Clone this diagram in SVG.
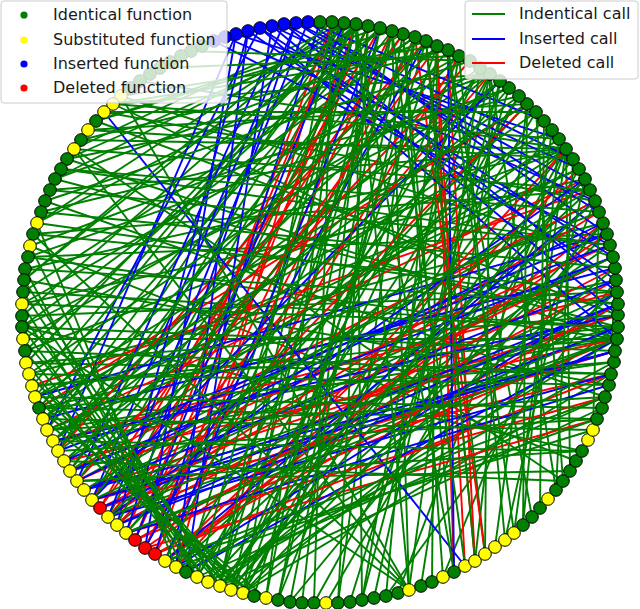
<svg xmlns="http://www.w3.org/2000/svg" width="640" height="609" viewBox="0 0 640 609">
<style>
.e path{fill:none;stroke-width:1.9}
.eg path{stroke:#007f00}
.eb path{stroke:#0000ff}
.er path{stroke:#ff0000}
.n circle{stroke:#000;stroke-width:1}
.g{fill:#008000}.y{fill:#ffff00}.b{fill:#0000ff}.r{fill:#ff0000}
.lg{fill:#fff;fill-opacity:.8;stroke:#cccccc;stroke-width:1}
.t{font-family:"DejaVu Sans",sans-serif;font-size:16px;fill:#1a1a1a}
</style>
<rect width="640" height="609" fill="#fff"/>
<g id="connectors" class="e">
<g class="eg">
<path d="M356 24L22 316"/><path d="M356 24L26 363"/><path d="M356 24L47 430"/><path d="M356 24L92 500"/><path d="M356 24L186 572"/><path d="M356 24L220 586"/>
<path d="M344 23L37 223"/><path d="M344 23L24 280"/><path d="M344 23L32 386"/><path d="M344 23L58 451"/><path d="M344 23L243 593"/><path d="M344 23L266 598"/>
<path d="M356 24L362 600"/><path d="M344 23L74 149"/><path d="M356 24L55 179"/>
<path d="M380 28L39 408"/><path d="M368 26L108 517"/><path d="M380 28L231 590"/><path d="M368 26L302 603"/><path d="M380 28L96 121"/>
<path d="M415 37L23 292"/><path d="M403 34L70 471"/><path d="M392 31L208 582"/><path d="M426 41L254 596"/><path d="M415 37L338 603"/><path d="M403 34L454 572"/><path d="M392 31L409 590"/><path d="M426 41L485 554"/><path d="M437 46L432 582"/><path d="M448 50L532 517"/>
<path d="M490 74L113 104"/><path d="M490 74L67 159"/><path d="M490 74L30 246"/><path d="M490 74L23 339"/><path d="M490 74L53 441"/><path d="M490 74L197 577"/><path d="M490 74L278 600"/><path d="M490 74L374 598"/><path d="M490 74L556 490"/>
<path d="M527 104L88 130"/><path d="M519 96L41 212"/><path d="M509 88L22 327"/><path d="M500 81L43 419"/><path d="M527 104L126 533"/><path d="M519 96L243 593"/><path d="M509 88L350 602"/><path d="M500 81L421 586"/><path d="M527 104L475 561"/>
<path d="M566 149L140 81"/><path d="M566 149L81 140"/><path d="M566 149L50 190"/><path d="M566 149L25 269"/><path d="M566 149L25 351"/><path d="M566 149L64 461"/><path d="M566 149L117 525"/><path d="M566 149L220 586"/><path d="M566 149L314 603"/><path d="M566 149L398 593"/><path d="M566 149L514 533"/><path d="M566 149L570 471"/>
<path d="M595 201L104 112"/><path d="M590 190L33 234"/><path d="M585 179L22 304"/><path d="M579 169L35 397"/><path d="M595 201L77 481"/><path d="M590 190L176 567"/><path d="M585 179L231 590"/><path d="M579 169L326 603"/><path d="M595 201L443 577"/>
<path d="M613 257L121 96"/><path d="M610 245L61 169"/><path d="M607 234L28 257"/><path d="M603 223L29 374"/><path d="M613 257L84 490"/><path d="M610 245L165 561"/><path d="M607 234L220 586"/><path d="M603 223L290 602"/>
<path d="M618 315L96 121"/><path d="M618 304L37 223"/><path d="M617 292L22 316"/><path d="M616 280L39 408"/><path d="M618 315L92 500"/><path d="M618 304L186 572"/><path d="M617 292L243 593"/><path d="M616 280L386 596"/>
<path d="M617 339L113 104"/><path d="M617 339L67 159"/><path d="M617 339L28 257"/><path d="M617 339L23 339"/><path d="M617 339L47 430"/><path d="M617 339L108 517"/><path d="M618 327L55 179"/><path d="M618 327L23 292"/><path d="M618 327L32 386"/><path d="M618 327L70 471"/><path d="M618 327L126 533"/><path d="M617 339L208 582"/><path d="M618 327L231 590"/>
<path d="M605 397L45 201"/><path d="M609 385L24 280"/><path d="M611 374L26 363"/><path d="M614 362L53 441"/><path d="M615 351L92 500"/><path d="M605 397L197 577"/><path d="M611 374L243 593"/>
<path d="M563 481L74 149"/><path d="M576 461L30 246"/><path d="M582 451L22 327"/><path d="M597 419L39 408"/><path d="M570 471L77 481"/><path d="M593 430L165 561"/><path d="M602 408L220 586"/>
</g>
<g class="er">
<path d="M437 46L465 566"/><path d="M426 41L475 561"/><path d="M415 37L485 554"/><path d="M448 50L475 561"/><path d="M437 46L454 572"/>
<path d="M135 540L368 26"/><path d="M145 548L392 31"/><path d="M155 554L356 24"/><path d="M100 508L380 28"/><path d="M135 540L332 22"/><path d="M145 548L415 37"/>
<path d="M100 508L615 351"/><path d="M135 540L616 280"/><path d="M145 548L607 234"/><path d="M155 554L611 374"/><path d="M100 508L613 257"/><path d="M135 540L617 339"/><path d="M155 554L618 304"/>
<path d="M58 451L426 41"/><path d="M77 481L470 61"/><path d="M92 500L403 34"/><path d="M108 517L490 74"/><path d="M117 525L527 104"/><path d="M126 533L344 23"/>
<path d="M47 430L585 179"/><path d="M70 471L595 201"/><path d="M84 490L618 315"/><path d="M126 533L605 397"/><path d="M165 561L603 223"/><path d="M176 567L332 22"/>
<path d="M53 441L617 292"/><path d="M64 461L617 339"/><path d="M77 481L610 245"/><path d="M92 500L611 374"/><path d="M108 517L599 212"/><path d="M117 525L615 268"/><path d="M165 561L579 169"/><path d="M176 567L566 149"/><path d="M100 508L437 46"/><path d="M155 554L459 56"/><path d="M145 548L597 419"/><path d="M39 408L527 104"/><path d="M32 386L590 190"/>
</g>
<g class="eb">
<path d="M308 22L607 234"/><path d="M296 23L599 212"/><path d="M284 24L590 190"/><path d="M272 26L579 169"/><path d="M260 28L613 257"/><path d="M248 31L616 280"/><path d="M236 34L559 139"/>
<path d="M308 22L544 121"/><path d="M296 23L573 159"/><path d="M284 24L617 292"/><path d="M272 26L618 315"/><path d="M260 28L617 339"/><path d="M225 37L595 201"/><path d="M214 41L610 245"/>
<path d="M104 112L465 566"/><path d="M448 50L454 572"/>
<path d="M64 461L607 234"/><path d="M70 471L613 257"/><path d="M77 481L603 223"/><path d="M84 490L616 280"/><path d="M92 500L615 351"/><path d="M100 508L618 304"/><path d="M117 525L618 327"/><path d="M108 517L611 374"/>
<path d="M135 540L344 23"/><path d="M155 554L320 22"/><path d="M165 561L380 28"/><path d="M126 533L296 23"/><path d="M186 572L272 26"/><path d="M176 567L248 31"/>
<path d="M308 22L108 517"/><path d="M284 24L77 481"/><path d="M248 31L117 525"/><path d="M236 34L58 451"/><path d="M260 28L47 430"/><path d="M296 23L92 500"/><path d="M236 34L145 548"/>
<path d="M43 419L615 268"/><path d="M53 441L618 315"/><path d="M58 451L610 245"/><path d="M84 490L615 351"/><path d="M108 517L585 179"/><path d="M117 525L618 304"/><path d="M126 533L609 385"/><path d="M165 561L595 201"/><path d="M176 567L617 292"/><path d="M186 572L617 339"/><path d="M145 548L426 41"/><path d="M92 500L500 81"/><path d="M35 397L607 234"/>
</g>
<g class="eg">
<path d="M220 586L552 130"/><path d="M231 590L480 68"/><path d="M243 593L437 46"/><path d="M220 586L332 22"/><path d="M220 586L392 31"/><path d="M231 590L459 56"/><path d="M243 593L536 112"/><path d="M208 582L585 179"/><path d="M197 577L519 96"/>
<path d="M23 292L220 586"/><path d="M22 316L231 590"/><path d="M23 339L243 593"/><path d="M26 363L208 582"/><path d="M30 246L197 577"/><path d="M25 269L186 572"/><path d="M32 386L254 596"/><path d="M39 408L266 598"/><path d="M37 223L176 567"/>
<path d="M96 121L392 31"/><path d="M81 140L448 50"/><path d="M67 159L368 26"/><path d="M55 179L426 41"/><path d="M45 201L470 61"/><path d="M37 223L403 34"/><path d="M28 257L509 88"/><path d="M24 280L332 22"/><path d="M22 304L459 56"/><path d="M22 327L415 37"/><path d="M25 351L380 28"/><path d="M29 374L480 68"/><path d="M35 397L344 23"/><path d="M43 419L437 46"/><path d="M53 441L519 96"/><path d="M58 451L536 112"/><path d="M70 471L356 24"/>
<path d="M113 104L559 139"/><path d="M104 112L536 112"/><path d="M88 130L573 159"/><path d="M74 149L590 190"/><path d="M61 169L599 212"/><path d="M50 190L610 245"/><path d="M41 212L615 268"/><path d="M33 234L617 292"/><path d="M25 269L618 304"/><path d="M22 304L618 327"/><path d="M22 327L615 351"/><path d="M25 351L611 374"/><path d="M29 374L609 385"/><path d="M35 397L602 408"/><path d="M43 419L593 430"/><path d="M53 441L582 451"/><path d="M64 461L563 481"/>
<path d="M409 590L74 149"/><path d="M409 590L33 234"/><path d="M409 590L22 327"/><path d="M409 590L121 96"/><path d="M409 590L356 24"/>
<path d="M465 566L392 31"/><path d="M475 561L426 41"/><path d="M485 554L490 74"/><path d="M495 547L552 130"/><path d="M505 540L585 179"/><path d="M514 533L448 50"/><path d="M523 525L527 104"/><path d="M454 572L356 24"/><path d="M443 577L403 34"/><path d="M386 596L437 46"/><path d="M362 600L459 56"/><path d="M338 603L368 26"/><path d="M314 603L332 22"/><path d="M278 600L415 37"/><path d="M266 598L380 28"/>
<path d="M573 159L556 490"/><path d="M544 121L540 508"/><path d="M599 212L593 430"/><path d="M615 268L611 374"/><path d="M559 139L523 525"/><path d="M536 112L563 481"/>
<path d="M448 50L113 104"/><path d="M459 56L160 68"/><path d="M470 61L191 51"/><path d="M437 46L121 96"/>
<path d="M92 500L613 257"/><path d="M108 517L617 292"/><path d="M126 533L617 339"/><path d="M165 561L605 397"/><path d="M176 567L597 419"/>
<path d="M35 397L527 104"/><path d="M39 408L552 130"/><path d="M43 419L579 169"/><path d="M47 430L599 212"/><path d="M53 441L459 56"/><path d="M58 451L392 31"/><path d="M64 461L500 81"/><path d="M70 471L559 139"/><path d="M77 481L426 41"/><path d="M84 490L590 190"/><path d="M92 500L448 50"/>
<path d="M108 517L544 121"/><path d="M117 525L368 26"/><path d="M126 533L509 88"/><path d="M165 561L415 37"/><path d="M176 567L480 68"/><path d="M186 572L595 201"/><path d="M197 577L356 24"/><path d="M208 582L614 362"/><path d="M220 586L615 268"/><path d="M231 590L573 159"/><path d="M243 593L603 223"/>
<path d="M29 374L231 590"/><path d="M25 351L220 586"/><path d="M22 327L208 582"/><path d="M35 397L243 593"/><path d="M43 419L254 596"/><path d="M22 304L197 577"/><path d="M24 280L220 586"/>
<path d="M26 363L618 315"/><path d="M32 386L617 339"/><path d="M39 408L614 362"/><path d="M47 430L605 397"/><path d="M58 451L597 419"/><path d="M77 481L582 451"/>
<path d="M403 34L290 602"/><path d="M392 31L278 600"/><path d="M459 56L505 540"/><path d="M480 68L409 590"/><path d="M500 81L362 600"/>
</g>
</g>
<g class="n">
<g id="n0"><circle class="g" cx="618" cy="315" r="6.3"/></g>
<g id="n1"><circle class="g" cx="618" cy="304" r="6.3"/></g>
<g id="n2"><circle class="g" cx="617" cy="292" r="6.3"/></g>
<g id="n3"><circle class="g" cx="616" cy="280" r="6.3"/></g>
<g id="n4"><circle class="g" cx="615" cy="268" r="6.3"/></g>
<g id="n5"><circle class="g" cx="613" cy="257" r="6.3"/></g>
<g id="n6"><circle class="g" cx="610" cy="245" r="6.3"/></g>
<g id="n7"><circle class="g" cx="607" cy="234" r="6.3"/></g>
<g id="n8"><circle class="g" cx="603" cy="223" r="6.3"/></g>
<g id="n9"><circle class="g" cx="599" cy="212" r="6.3"/></g>
<g id="n10"><circle class="g" cx="595" cy="201" r="6.3"/></g>
<g id="n11"><circle class="g" cx="590" cy="190" r="6.3"/></g>
<g id="n12"><circle class="g" cx="585" cy="179" r="6.3"/></g>
<g id="n13"><circle class="g" cx="579" cy="169" r="6.3"/></g>
<g id="n14"><circle class="g" cx="573" cy="159" r="6.3"/></g>
<g id="n15"><circle class="g" cx="566" cy="149" r="6.3"/></g>
<g id="n16"><circle class="g" cx="559" cy="139" r="6.3"/></g>
<g id="n17"><circle class="g" cx="552" cy="130" r="6.3"/></g>
<g id="n18"><circle class="g" cx="544" cy="121" r="6.3"/></g>
<g id="n19"><circle class="g" cx="536" cy="112" r="6.3"/></g>
<g id="n20"><circle class="g" cx="527" cy="104" r="6.3"/></g>
<g id="n21"><circle class="g" cx="519" cy="96" r="6.3"/></g>
<g id="n22"><circle class="g" cx="509" cy="88" r="6.3"/></g>
<g id="n23"><circle class="g" cx="500" cy="81" r="6.3"/></g>
<g id="n24"><circle class="g" cx="490" cy="74" r="6.3"/></g>
<g id="n25"><circle class="g" cx="480" cy="68" r="6.3"/></g>
<g id="n26"><circle class="g" cx="470" cy="61" r="6.3"/></g>
<g id="n27"><circle class="g" cx="459" cy="56" r="6.3"/></g>
<g id="n28"><circle class="g" cx="448" cy="50" r="6.3"/></g>
<g id="n29"><circle class="g" cx="437" cy="46" r="6.3"/></g>
<g id="n30"><circle class="g" cx="426" cy="41" r="6.3"/></g>
<g id="n31"><circle class="g" cx="415" cy="37" r="6.3"/></g>
<g id="n32"><circle class="g" cx="403" cy="34" r="6.3"/></g>
<g id="n33"><circle class="g" cx="392" cy="31" r="6.3"/></g>
<g id="n34"><circle class="g" cx="380" cy="28" r="6.3"/></g>
<g id="n35"><circle class="g" cx="368" cy="26" r="6.3"/></g>
<g id="n36"><circle class="g" cx="356" cy="24" r="6.3"/></g>
<g id="n37"><circle class="g" cx="344" cy="23" r="6.3"/></g>
<g id="n38"><circle class="g" cx="332" cy="22" r="6.3"/></g>
<g id="n39"><circle class="g" cx="320" cy="22" r="6.3"/></g>
<g id="n40"><circle class="b" cx="308" cy="22" r="6.3"/></g>
<g id="n41"><circle class="b" cx="296" cy="23" r="6.3"/></g>
<g id="n42"><circle class="b" cx="284" cy="24" r="6.3"/></g>
<g id="n43"><circle class="b" cx="272" cy="26" r="6.3"/></g>
<g id="n44"><circle class="b" cx="260" cy="28" r="6.3"/></g>
<g id="n45"><circle class="b" cx="248" cy="31" r="6.3"/></g>
<g id="n46"><circle class="b" cx="236" cy="34" r="6.3"/></g>
<g id="n47"><circle class="b" cx="225" cy="37" r="6.3"/></g>
<g id="n48"><circle class="b" cx="214" cy="41" r="6.3"/></g>
<g id="n49"><circle class="g" cx="202" cy="46" r="6.3"/></g>
<g id="n50"><circle class="g" cx="191" cy="51" r="6.3"/></g>
<g id="n51"><circle class="g" cx="181" cy="56" r="6.3"/></g>
<g id="n52"><circle class="g" cx="170" cy="62" r="6.3"/></g>
<g id="n53"><circle class="g" cx="160" cy="68" r="6.3"/></g>
<g id="n54"><circle class="g" cx="150" cy="74" r="6.3"/></g>
<g id="n55"><circle class="g" cx="140" cy="81" r="6.3"/></g>
<g id="n56"><circle class="g" cx="131" cy="88" r="6.3"/></g>
<g id="n57"><circle class="y" cx="121" cy="96" r="6.3"/></g>
<g id="n58"><circle class="y" cx="113" cy="104" r="6.3"/></g>
<g id="n59"><circle class="y" cx="104" cy="112" r="6.3"/></g>
<g id="n60"><circle class="g" cx="96" cy="121" r="6.3"/></g>
<g id="n61"><circle class="y" cx="88" cy="130" r="6.3"/></g>
<g id="n62"><circle class="g" cx="81" cy="140" r="6.3"/></g>
<g id="n63"><circle class="y" cx="74" cy="149" r="6.3"/></g>
<g id="n64"><circle class="g" cx="67" cy="159" r="6.3"/></g>
<g id="n65"><circle class="g" cx="61" cy="169" r="6.3"/></g>
<g id="n66"><circle class="g" cx="55" cy="179" r="6.3"/></g>
<g id="n67"><circle class="g" cx="50" cy="190" r="6.3"/></g>
<g id="n68"><circle class="g" cx="45" cy="201" r="6.3"/></g>
<g id="n69"><circle class="g" cx="41" cy="212" r="6.3"/></g>
<g id="n70"><circle class="y" cx="37" cy="223" r="6.3"/></g>
<g id="n71"><circle class="g" cx="33" cy="234" r="6.3"/></g>
<g id="n72"><circle class="y" cx="30" cy="246" r="6.3"/></g>
<g id="n73"><circle class="g" cx="28" cy="257" r="6.3"/></g>
<g id="n74"><circle class="g" cx="25" cy="269" r="6.3"/></g>
<g id="n75"><circle class="g" cx="24" cy="280" r="6.3"/></g>
<g id="n76"><circle class="g" cx="23" cy="292" r="6.3"/></g>
<g id="n77"><circle class="y" cx="22" cy="304" r="6.3"/></g>
<g id="n78"><circle class="g" cx="22" cy="316" r="6.3"/></g>
<g id="n79"><circle class="g" cx="22" cy="327" r="6.3"/></g>
<g id="n80"><circle class="y" cx="23" cy="339" r="6.3"/></g>
<g id="n81"><circle class="g" cx="25" cy="351" r="6.3"/></g>
<g id="n82"><circle class="y" cx="26" cy="363" r="6.3"/></g>
<g id="n83"><circle class="y" cx="29" cy="374" r="6.3"/></g>
<g id="n84"><circle class="y" cx="32" cy="386" r="6.3"/></g>
<g id="n85"><circle class="y" cx="35" cy="397" r="6.3"/></g>
<g id="n86"><circle class="g" cx="39" cy="408" r="6.3"/></g>
<g id="n87"><circle class="y" cx="43" cy="419" r="6.3"/></g>
<g id="n88"><circle class="y" cx="47" cy="430" r="6.3"/></g>
<g id="n89"><circle class="y" cx="53" cy="441" r="6.3"/></g>
<g id="n90"><circle class="y" cx="58" cy="451" r="6.3"/></g>
<g id="n91"><circle class="y" cx="64" cy="461" r="6.3"/></g>
<g id="n92"><circle class="y" cx="70" cy="471" r="6.3"/></g>
<g id="n93"><circle class="y" cx="77" cy="481" r="6.3"/></g>
<g id="n94"><circle class="y" cx="84" cy="490" r="6.3"/></g>
<g id="n95"><circle class="y" cx="92" cy="500" r="6.3"/></g>
<g id="n96"><circle class="r" cx="100" cy="508" r="6.3"/></g>
<g id="n97"><circle class="y" cx="108" cy="517" r="6.3"/></g>
<g id="n98"><circle class="y" cx="117" cy="525" r="6.3"/></g>
<g id="n99"><circle class="y" cx="126" cy="533" r="6.3"/></g>
<g id="n100"><circle class="r" cx="135" cy="540" r="6.3"/></g>
<g id="n101"><circle class="r" cx="145" cy="548" r="6.3"/></g>
<g id="n102"><circle class="r" cx="155" cy="554" r="6.3"/></g>
<g id="n103"><circle class="y" cx="165" cy="561" r="6.3"/></g>
<g id="n104"><circle class="y" cx="176" cy="567" r="6.3"/></g>
<g id="n105"><circle class="g" cx="186" cy="572" r="6.3"/></g>
<g id="n106"><circle class="y" cx="197" cy="577" r="6.3"/></g>
<g id="n107"><circle class="y" cx="208" cy="582" r="6.3"/></g>
<g id="n108"><circle class="y" cx="220" cy="586" r="6.3"/></g>
<g id="n109"><circle class="y" cx="231" cy="590" r="6.3"/></g>
<g id="n110"><circle class="y" cx="243" cy="593" r="6.3"/></g>
<g id="n111"><circle class="g" cx="254" cy="596" r="6.3"/></g>
<g id="n112"><circle class="y" cx="266" cy="598" r="6.3"/></g>
<g id="n113"><circle class="g" cx="278" cy="600" r="6.3"/></g>
<g id="n114"><circle class="g" cx="290" cy="602" r="6.3"/></g>
<g id="n115"><circle class="g" cx="302" cy="603" r="6.3"/></g>
<g id="n116"><circle class="g" cx="314" cy="603" r="6.3"/></g>
<g id="n117"><circle class="y" cx="326" cy="603" r="6.3"/></g>
<g id="n118"><circle class="g" cx="338" cy="603" r="6.3"/></g>
<g id="n119"><circle class="g" cx="350" cy="602" r="6.3"/></g>
<g id="n120"><circle class="g" cx="362" cy="600" r="6.3"/></g>
<g id="n121"><circle class="g" cx="374" cy="598" r="6.3"/></g>
<g id="n122"><circle class="g" cx="386" cy="596" r="6.3"/></g>
<g id="n123"><circle class="g" cx="398" cy="593" r="6.3"/></g>
<g id="n124"><circle class="y" cx="409" cy="590" r="6.3"/></g>
<g id="n125"><circle class="g" cx="421" cy="586" r="6.3"/></g>
<g id="n126"><circle class="g" cx="432" cy="582" r="6.3"/></g>
<g id="n127"><circle class="y" cx="443" cy="577" r="6.3"/></g>
<g id="n128"><circle class="g" cx="454" cy="572" r="6.3"/></g>
<g id="n129"><circle class="y" cx="465" cy="566" r="6.3"/></g>
<g id="n130"><circle class="y" cx="475" cy="561" r="6.3"/></g>
<g id="n131"><circle class="y" cx="485" cy="554" r="6.3"/></g>
<g id="n132"><circle class="y" cx="495" cy="547" r="6.3"/></g>
<g id="n133"><circle class="y" cx="505" cy="540" r="6.3"/></g>
<g id="n134"><circle class="y" cx="514" cy="533" r="6.3"/></g>
<g id="n135"><circle class="g" cx="523" cy="525" r="6.3"/></g>
<g id="n136"><circle class="g" cx="532" cy="517" r="6.3"/></g>
<g id="n137"><circle class="g" cx="540" cy="508" r="6.3"/></g>
<g id="n138"><circle class="y" cx="548" cy="499" r="6.3"/></g>
<g id="n139"><circle class="g" cx="556" cy="490" r="6.3"/></g>
<g id="n140"><circle class="g" cx="563" cy="481" r="6.3"/></g>
<g id="n141"><circle class="g" cx="570" cy="471" r="6.3"/></g>
<g id="n142"><circle class="g" cx="576" cy="461" r="6.3"/></g>
<g id="n143"><circle class="g" cx="582" cy="451" r="6.3"/></g>
<g id="n144"><circle class="y" cx="588" cy="440" r="6.3"/></g>
<g id="n145"><circle class="y" cx="593" cy="430" r="6.3"/></g>
<g id="n146"><circle class="g" cx="597" cy="419" r="6.3"/></g>
<g id="n147"><circle class="g" cx="602" cy="408" r="6.3"/></g>
<g id="n148"><circle class="g" cx="605" cy="397" r="6.3"/></g>
<g id="n149"><circle class="g" cx="609" cy="385" r="6.3"/></g>
<g id="n150"><circle class="g" cx="611" cy="374" r="6.3"/></g>
<g id="n151"><circle class="g" cx="614" cy="362" r="6.3"/></g>
<g id="n152"><circle class="g" cx="615" cy="351" r="6.3"/></g>
<g id="n153"><circle class="g" cx="617" cy="339" r="6.3"/></g>
<g id="n154"><circle class="g" cx="618" cy="327" r="6.3"/></g>
</g>
<g id="legend-nodes">
<rect class="lg" x="1" y="1" width="226" height="102" rx="3"/>
<circle cx="24" cy="15" r="3.6" fill="#008000"/>
<circle cx="24" cy="40" r="3.6" fill="#ffff00"/>
<circle cx="24" cy="64" r="3.6" fill="#0000ff"/>
<circle cx="24" cy="88" r="3.6" fill="#ff0000"/>
<text class="t" x="53" y="20">Identical function</text>
<text class="t" x="53" y="45">Substituted function</text>
<text class="t" x="53" y="69">Inserted function</text>
<text class="t" x="53" y="93">Deleted function</text>
</g>
<g id="legend-edges">
<rect class="lg" x="465" y="1" width="173" height="78" rx="3"/>
<line x1="472" y1="14" x2="505" y2="14" stroke="#008000" stroke-width="1.9"/>
<line x1="472" y1="39" x2="505" y2="39" stroke="#0000ff" stroke-width="1.9"/>
<line x1="472" y1="63" x2="505" y2="63" stroke="#ff0000" stroke-width="1.9"/>
<text class="t" x="519" y="19">Indentical call</text>
<text class="t" x="519" y="44">Inserted call</text>
<text class="t" x="519" y="68">Deleted call</text>
</g>
</svg>
